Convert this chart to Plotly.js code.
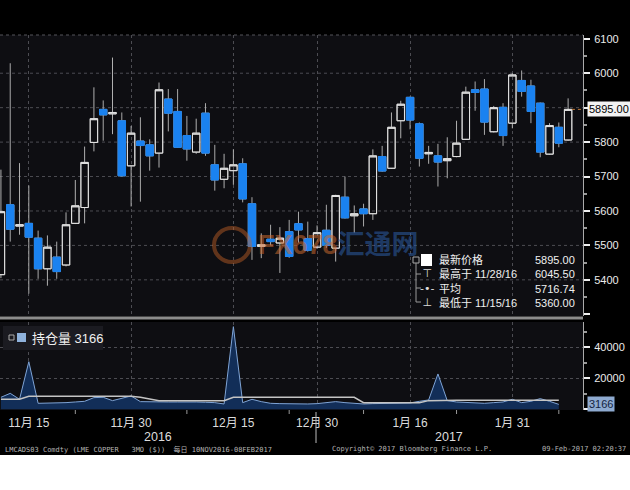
<!DOCTYPE html>
<html><head><meta charset="utf-8">
<script src="https://cdn.plot.ly/plotly-3.0.1.min.js"></script>
<style>html,body{margin:0;padding:0;background:#fff;}#chart{width:630px;height:455px;}</style>
</head><body><div id="chart"></div>
<script>
const dates = ["2016-11-10","2016-11-11","2016-11-14","2016-11-15","2016-11-16","2016-11-17","2016-11-18","2016-11-21","2016-11-22","2016-11-23","2016-11-24","2016-11-25","2016-11-28","2016-11-29","2016-11-30",
"2016-12-01","2016-12-02","2016-12-05","2016-12-06","2016-12-07","2016-12-08","2016-12-09","2016-12-12","2016-12-13","2016-12-14","2016-12-15","2016-12-16","2016-12-19","2016-12-20","2016-12-21","2016-12-22","2016-12-23","2016-12-28","2016-12-29","2016-12-30",
"2017-01-03","2017-01-04","2017-01-05","2017-01-06","2017-01-09","2017-01-10","2017-01-11","2017-01-12","2017-01-13","2017-01-16","2017-01-17","2017-01-18","2017-01-19","2017-01-20","2017-01-23","2017-01-24","2017-01-25","2017-01-26","2017-01-27","2017-01-30","2017-01-31",
"2017-02-01","2017-02-02","2017-02-03","2017-02-06","2017-02-07","2017-02-08"];
const openP  = [5415,5618,5556,5564,5521,5432,5466,5443,5564,5610,5799,5895,5882,5862,5731,5803,5792,5768,5925,5889,5819,5771,5884,5734,5692,5717,5737,5621,5497,5518,5507,5540,5563,5520,5495,5544,5492,5640,5586,5606,5592,5758,5724,5862,5930,5853,5766,5760,5746,5758,5808,5952,5954,5830,5901,5855,5979,5963,5913,5765,5843,5806];
const highP  = [5720,6029,5739,5674,5543,5529,5511,5596,5690,5787,5959,5921,6045.5,5886,5847,5872,5808,5973,5954,5954,5876,5868,5913,5792,5766,5779,5753,5640,5535,5560,5553,5574,5598,5569,5558,5618,5647,5700,5616,5621,5779,5789,5886,5920,5932,5857,5789,5795,5814,5862,5961,5976,5983,5905,5913,6000,6008,5981,5915,5855,5857,5927];
const lowP   = [5405,5511,5531,5360,5403,5383,5403,5439,5562,5564,5773,5804,5823,5700,5613,5627,5717,5726,5831,5783,5746,5766,5760,5659,5666,5676,5625,5458,5463,5501,5420,5464,5508,5482,5490,5493,5453,5578,5537,5555,5574,5714,5722,5811,5837,5729,5737,5671,5695,5756,5806,5891,5821,5828,5789,5840,5932,5855,5756,5763,5785,5804];
const closeP = [5598,5547,5560,5524,5432,5495,5424,5560,5615,5741,5868,5879,5886,5702,5826,5790,5760,5952,5884,5785,5780,5826,5768,5690,5724,5734,5635,5497,5502,5511,5521,5468,5545,5486,5537,5500,5645,5580,5592,5592,5760,5716,5843,5910,5864,5753,5770,5742,5752,5797,5945,5944,5858,5900,5819,5995,5947,5889,5771,5848,5797,5895];
const openInterest = [7740,10300,6450,30700,3870,3870,4100,4300,4730,5160,7520,7740,5590,7100,8600,4950,4730,4950,4730,4730,4950,4730,4520,4300,3440,53300,4300,6450,4950,3870,3660,3440,3440,3440,3660,4520,4950,4300,3660,3440,3660,3870,3870,3870,4090,5160,6020,22800,5590,4730,4520,4300,3870,4300,4730,6450,4300,5160,6880,5160,3166];
const oiAverage = [6450,6450,6450,8400,8400,8400,8400,8400,8400,8400,8400,8400,8400,8400,8400,7740,6450,5590,5590,5590,5590,5590,5590,5590,5590,7740,7740,7740,7740,7740,7740,7740,7740,7740,7740,7740,7740,7740,7740,4300,4300,4300,4300,4300,4300,4300,5590,5800,5800,5800,5800,5800,5800,5800,5800,5800,5800,5800,5800,5800,5800];
const tickDates = ["2016-11-15","2016-11-30","2016-12-15","2016-12-30","2017-01-16","2017-01-31"];
const tickText = ["11月 15","11月 30","12月 15","12月 30","1月 16","1月 31"];
const minorTickDates = ["2016-11-22","2016-12-08","2016-12-23","2017-01-09","2017-01-23","2017-02-07"];
const priceTicks = [5300,5400,5500,5600,5700,5800,5900,6000,6100];
const priceTickText = ["","5400","5500","5600","5700","5800","","6000","6100"];
const priceMinor = [5350,5450,5550,5650,5750,5850,5950,6050];
const priceGrid = [5400,5500,5600,5700,5800,5900,6000];
const oiTicks = [0,20000,40000];
const oiTickText = ["","20000","40000"];
const oiMinor = [10000,30000,50000];
const yearLabels = ["2016","2017"];
const lastPrice = "5895.00";
const lastOI = "3166";
const legendLabels = ["最新价格","最高于 11/28/16","平均","最低于 11/15/16"];
const legendValues = ["5895.00","6045.50","5716.74","5360.00"];
const legendIcons = ["&nbsp;","⊤","-•-","⊥"];
const oiLegend = "持仓量 3166";
const footerLeft = "LMCADS03 Comdty (LME COPPER\u00a0\u00a0\u00a03MO ($))\u00a0\u00a0每日 10NOV2016-08FEB2017";
const footerMid = "Copyright© 2017 Bloomberg Finance L.P.";
const footerRight = "09-Feb-2017 02:20:37";

// layout helpers (pixel -> paper)
const PW = 583, PT = 35, PB = 410;
const px = x => x / PW;
const py = y => (PB - y) / (PB - PT);

const blue = '#1a82f0';
const bodyHigh = openP.map((o,i)=>Math.max(o,closeP[i]));
const bodyLow = openP.map((o,i)=>Math.min(o,closeP[i]));

const traces = [
 {type:'candlestick', x:dates, open:openP, high:highP, low:lowP, close:closeP, xaxis:'x', yaxis:'y',
  whiskerwidth:0,
  increasing:{line:{color:'#b0b0b0',width:1}, fillcolor:'rgba(0,0,0,0)'},
  decreasing:{line:{color:'#a9a9a9',width:1}, fillcolor:blue}, hoverinfo:'skip'},
 {type:'candlestick', x:dates, open:openP, high:bodyHigh, low:bodyLow, close:closeP, xaxis:'x', yaxis:'y',
  whiskerwidth:0,
  increasing:{line:{color:'#e4e4e4',width:1}, fillcolor:'rgba(0,0,0,0)'},
  decreasing:{line:{color:blue,width:1}, fillcolor:blue}, hoverinfo:'skip'},
 {type:'scatter', mode:'lines', x:dates.slice(0,openInterest.length), y:openInterest, xaxis:'x', yaxis:'y2',
  fill:'tozeroy', fillcolor:'#122e58', line:{color:'#7fa4d6',width:1}, hoverinfo:'skip'},
 {type:'scatter', mode:'lines', x:dates.slice(0,oiAverage.length), y:oiAverage, xaxis:'x', yaxis:'y2',
  line:{color:'#c4c4c4',width:1.5}, hoverinfo:'skip'}
];

const shapes = [];
priceGrid.forEach(v=>shapes.push({type:'line',xref:'paper',x0:0,x1:1,yref:'y',y0:v,y1:v,line:{color:'#4c4c52',width:1,dash:'dot'},layer:'below'}));
shapes.push({type:'line',xref:'paper',x0:0,x1:1,yref:'paper',y0:1,y1:1,line:{color:'#55555a',width:1,dash:'dot'}});
shapes.push({type:'rect',xref:'paper',x0:0,x1:1,yref:'paper',y0:py(319.5),y1:py(316.5),fillcolor:'#8c8c8c',line:{width:0}});
shapes.push({type:'line',xref:'paper',x0:0.981,x1:1,yref:'y',y0:5895,y1:5895,line:{color:'#c07a3a',width:1,dash:'dot'}});
minorTickDates.forEach(d=>shapes.push({type:'line',xref:'x',x0:d,x1:d,yref:'paper',y0:0,y1:py(414),line:{color:'#999',width:1}}));
shapes.push({type:'line',xref:'paper',x0:px(316),x1:px(316),yref:'paper',y0:py(412),y1:py(443),line:{color:'#bbb',width:1}});
// OI legend box
shapes.push({type:'rect',xref:'paper',yref:'paper',x0:px(3),x1:px(103),y0:py(350),y1:py(326),fillcolor:'#1b1b21',line:{width:0}});
shapes.push({type:'rect',xref:'paper',yref:'paper',x0:px(9),x1:px(14),y0:py(340),y1:py(335),line:{color:'#aaa',width:1}});
shapes.push({type:'rect',xref:'paper',yref:'paper',x0:px(17),x1:px(26),y0:py(342),y1:py(333),fillcolor:'#8fb2dc',line:{width:0}});
// price legend icons
shapes.push({type:'rect',xref:'paper',yref:'paper',x0:px(413),x1:px(419),y0:py(263),y1:py(257),line:{color:'#aaa',width:1}});
shapes.push({type:'rect',xref:'paper',yref:'paper',x0:px(421),x1:px(432),y0:py(266),y1:py(254),fillcolor:'#fff',line:{width:0}});
shapes.push({type:'line',xref:'paper',yref:'paper',x0:px(416),x1:px(416),y0:py(263),y1:py(302),line:{color:'#999',width:1}});
[274,288,302].forEach(y=>shapes.push({type:'line',xref:'paper',yref:'paper',x0:px(416),x1:px(421),y0:py(y),y1:py(y),line:{color:'#999',width:1}}));
// watermark circle
shapes.push({type:'circle',xref:'paper',yref:'paper',x0:px(214),x1:px(250),y0:py(262),y1:py(228),line:{color:'rgba(200,100,40,0.45)',width:4}});

const F = "Liberation Sans, Noto Sans CJK SC, sans-serif";
const LF = {family:F,size:11,color:'#f0f0f0'};
const ann = [];
const legMid = py(281);
ann.push({xref:'paper',yref:'paper',x:px(437),y:legMid,xanchor:'left',yanchor:'middle',align:'left',text:legendLabels.join('<br>'),showarrow:false,font:LF});
ann.push({xref:'paper',yref:'paper',x:px(577),y:legMid,xanchor:'right',yanchor:'middle',align:'right',text:legendValues.join('<br>'),showarrow:false,font:LF});
ann.push({xref:'paper',yref:'paper',x:px(427),y:legMid,xanchor:'center',yanchor:'middle',align:'center',text:legendIcons.join('<br>'),showarrow:false,font:{family:'DejaVu Sans',size:11,color:'#ddd'}});
ann.push({xref:'paper',yref:'paper',x:px(30),y:py(338),xanchor:'left',yanchor:'middle',text:oiLegend,showarrow:false,font:{family:F,size:13,color:'#f0f0f0'}});
ann.push({xref:'paper',yref:'y',x:1,y:5895,xanchor:'left',yanchor:'middle',xshift:4,text:lastPrice,showarrow:false,bgcolor:'#f2f2f2',borderpad:1,font:{family:F,size:11,color:'#000'}});
ann.push({xref:'paper',yref:'y2',x:1,y:3166,xanchor:'left',yanchor:'middle',xshift:4,text:lastOI,showarrow:false,bgcolor:'#8eaad0',borderpad:1,font:{family:F,size:11,color:'#13233f'}});
ann.push({xref:'paper',yref:'paper',x:px(158),y:py(437),xanchor:'center',yanchor:'middle',text:yearLabels[0],showarrow:false,font:{family:F,size:12.5,color:'#ddd'}});
ann.push({xref:'paper',yref:'paper',x:px(449),y:py(437),xanchor:'center',yanchor:'middle',text:yearLabels[1],showarrow:false,font:{family:F,size:12.5,color:'#ddd'}});
const MF = {family:'DejaVu Sans Mono, Noto Sans CJK SC, monospace',size:7,color:'#b4b4b4'};
ann.push({xref:'paper',yref:'paper',x:px(3),y:py(449),xanchor:'left',yanchor:'middle',text:footerLeft,showarrow:false,font:MF});
ann.push({xref:'paper',yref:'paper',x:px(330),y:py(449),xanchor:'left',yanchor:'middle',text:footerMid,showarrow:false,font:MF});
ann.push({xref:'paper',yref:'paper',x:px(628),y:py(449),xanchor:'right',yanchor:'middle',text:footerRight,showarrow:false,font:MF});
ann.push({xref:'paper',yref:'paper',x:px(256),y:py(245),xanchor:'left',yanchor:'middle',showarrow:false,
  text:'<b><span style="color:rgba(205,105,45,0.55)">FX678</span><span style="color:rgba(45,95,170,0.55)">汇通网</span></b>',
  font:{family:F,size:27}});

const layout = {
  width:630, height:455,
  paper_bgcolor:'#000', plot_bgcolor:'#0e0e12',
  margin:{l:0,r:47,t:PT,b:455-PB,pad:0},
  showlegend:false,
  boxgap:0.2, boxgroupgap:0,
  xaxis:{type:'category', categoryorder:'array', categoryarray:dates, range:[-0.1,62.6], anchor:'y2',
    rangeslider:{visible:false}, tickvals:tickDates, ticktext:tickText, ticks:'', showline:false, zeroline:false,
    showgrid:true, gridcolor:'#4c4c52', griddash:'dot', gridwidth:1, ticklabelstandoff:4,
    tickfont:{family:F,size:12,color:'#dcdcdc'}},
  yaxis:{domain:[py(316),1], side:'right', anchor:'x', range:[5295,6111], tickvals:priceTicks, ticktext:priceTickText,
    showgrid:false, zeroline:false, ticks:'outside', ticklen:6, tickwidth:2, tickcolor:'#eee', showline:true, linecolor:'#aaa', linewidth:1,
    tickfont:{family:F,size:11,color:'#ececec'}, ticklabelstandoff:2,
    minor:{tickvals:priceMinor, ticks:'outside', ticklen:3, tickcolor:'#999', showgrid:false}},
  yaxis2:{domain:[0,py(322)], side:'right', anchor:'x', range:[-450,56300], tickvals:oiTicks, ticktext:oiTickText,
    showgrid:true, gridcolor:'#4c4c52', griddash:'dot', zeroline:false, ticks:'outside', ticklen:6, tickwidth:2, tickcolor:'#eee',
    showline:true, linecolor:'#aaa', linewidth:1, tickfont:{family:F,size:11,color:'#ececec'}, ticklabelstandoff:2,
    minor:{tickvals:oiMinor, ticks:'outside', ticklen:3, tickcolor:'#999', showgrid:false}},
  shapes:shapes, annotations:ann
};
Plotly.newPlot('chart', traces, layout, {displayModeBar:false, staticPlot:true});
</script></body></html>
